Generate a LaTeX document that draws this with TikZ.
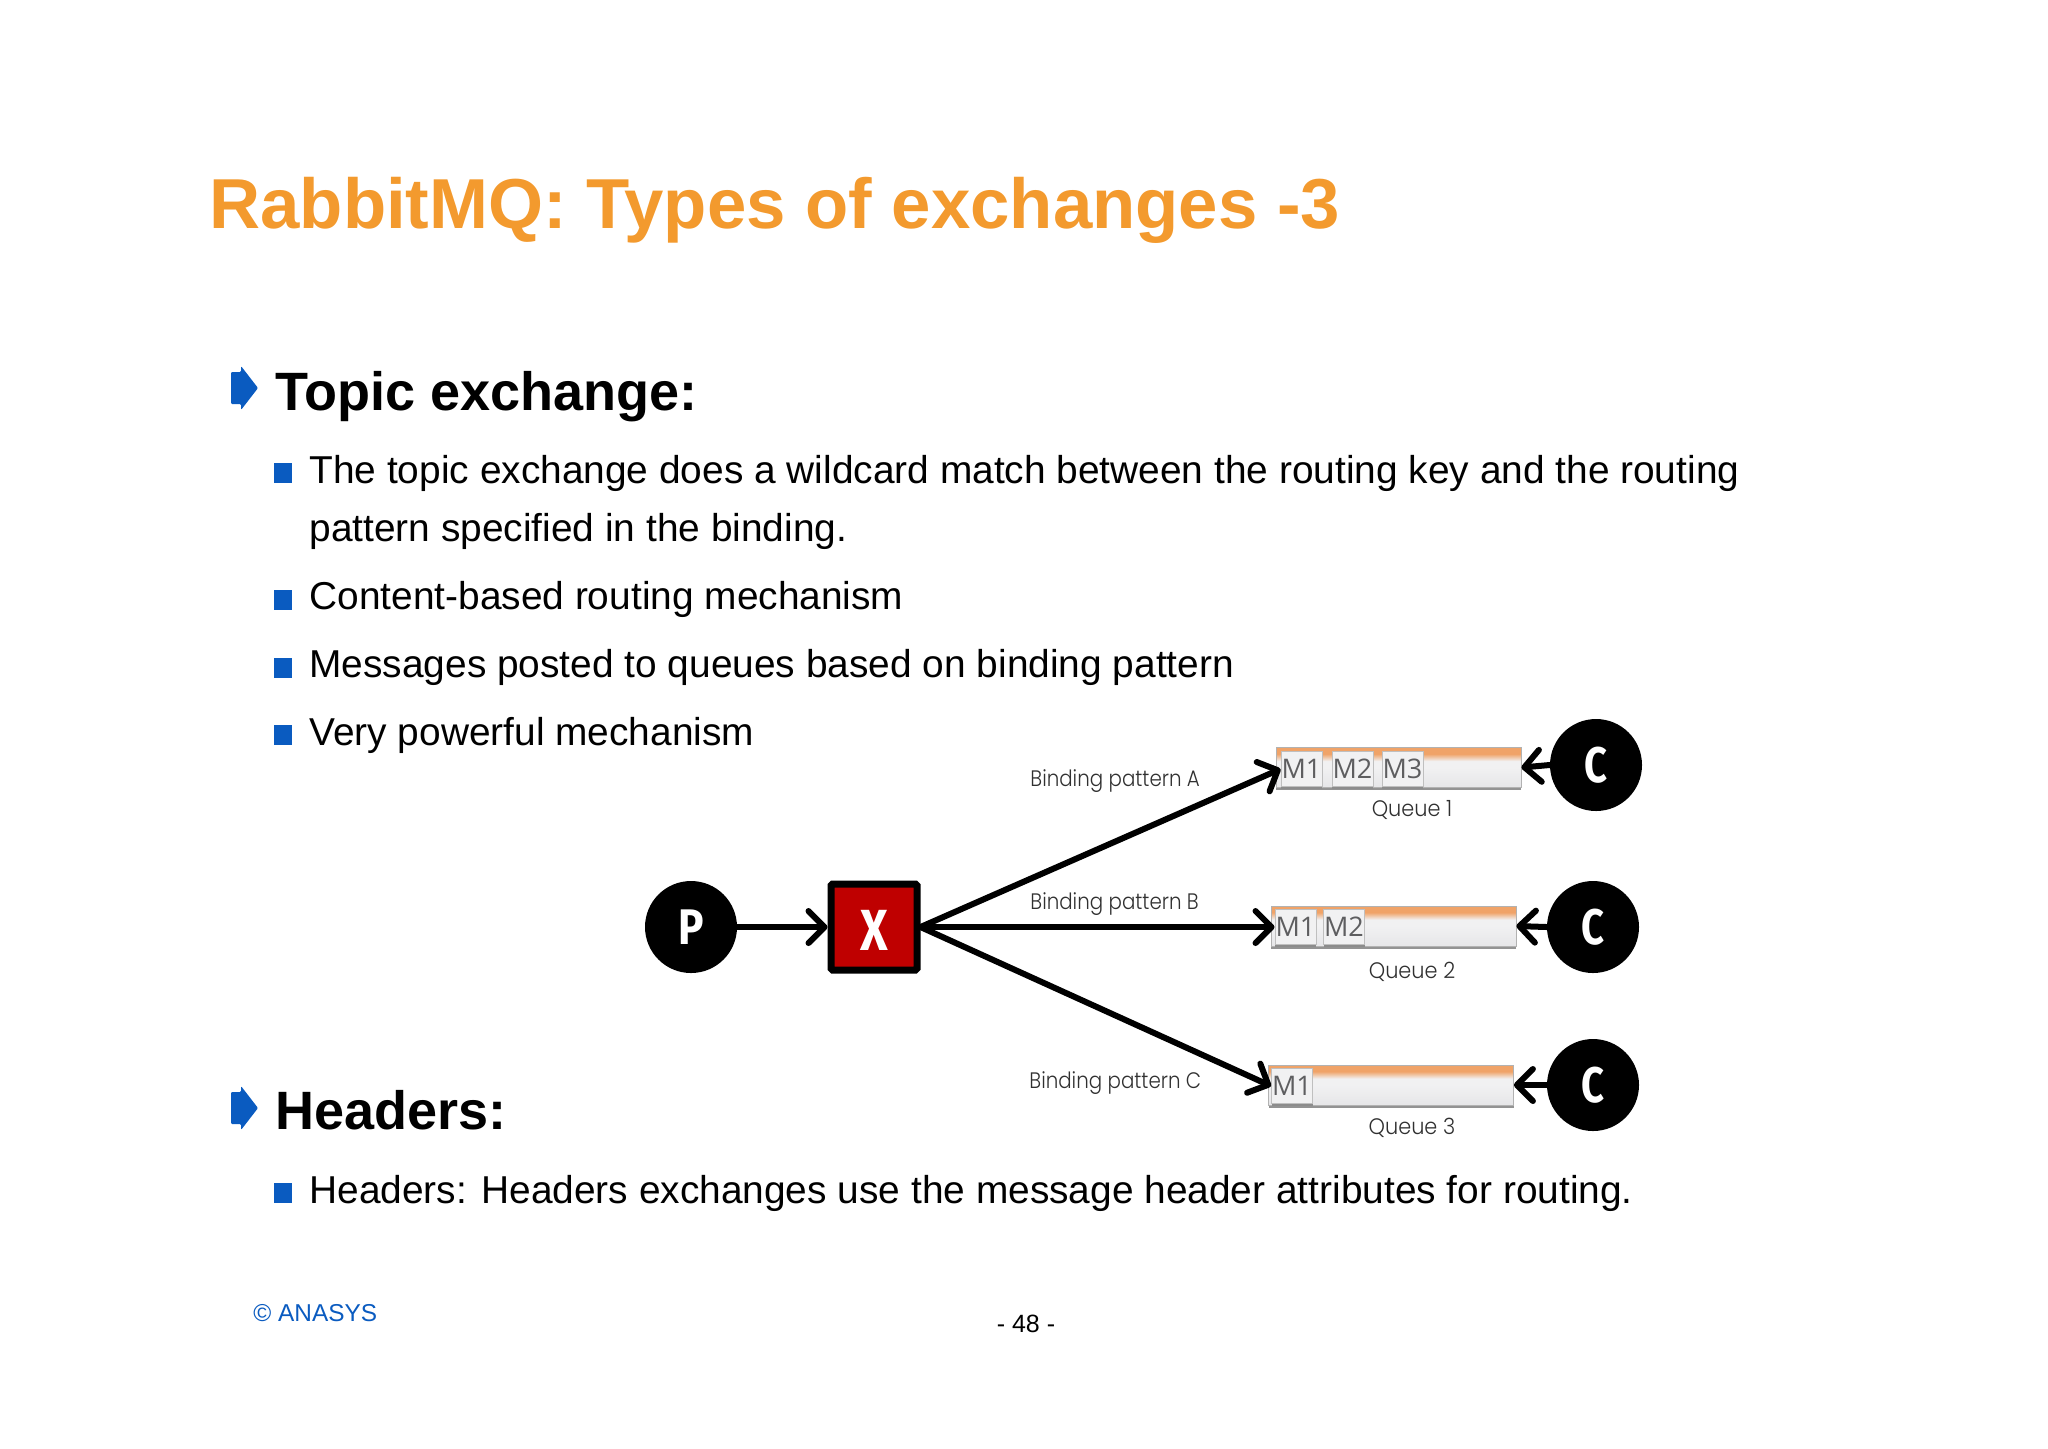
\documentclass[tikz,border=0pt]{standalone}
\usepackage{fontspec}
\setmainfont{Liberation Sans}
\newfontfamily\lblfont{Poppins}[UprightFont=* Light,FakeStretch=0.885]
\newfontfamily\qfont{Poppins}[UprightFont=* Light,FakeStretch=0.93]
\newfontfamily\msgfont{Open Sans}
\newfontfamily\keyfont{Fira Sans}[BoldFont=* Bold]
\usetikzlibrary{arrows.meta,shadows}
\definecolor{titleor}{HTML}{F39A2E}
\definecolor{bulblue}{HTML}{0A5BC0}
\definecolor{qor}{HTML}{F0A368}
\definecolor{qgr}{HTML}{E6E6E8}
\definecolor{qlt}{HTML}{F1F1F2}
\definecolor{xred}{HTML}{BF0000}
\definecolor{lblgr}{HTML}{303030}
\definecolor{msggr}{HTML}{5E5E60}
\pgfdeclareverticalshading{qshade}{100bp}{color(0bp)=(qgr);color(25bp)=(qgr);color(50bp)=(qlt);color(58bp)=(qlt);color(67bp)=(qor);color(75bp)=(qor);color(100bp)=(qor)}
\newcommand{\fsz}[1]{\fontsize{#1}{#1}\selectfont}
\tikzset{
  x=0.5pt,y=-0.5pt,
  body/.style={anchor=base west,inner sep=0pt,font=\fsz{19.43}},
  head/.style={anchor=base west,inner sep=0pt,font=\fsz{27}\bfseries},
  sq/.style={fill=bulblue,draw=none,minimum width=9pt,minimum height=10pt,inner sep=0pt},
  agent/.style={circle,fill=black,minimum size=46pt,inner sep=0pt,text=white,font=\keyfont\bfseries\fsz{25}},
  queue/.style={rectangle,draw=gray!60,line width=0.4pt,shading=qshade,minimum width=122.5pt,minimum height=20pt,inner sep=0pt,
    general shadow={fill=gray!85,shadow yshift=-1.4pt}},
  msg/.style={rectangle,fill=qlt,draw=gray!50,line width=0.5pt,minimum width=20.5pt,minimum height=17.5pt,inner sep=0pt,text=msggr,font=\msgfont\fsz{13.5},
    general shadow={fill=gray!90,shadow yshift=-1.4pt}},
  bind/.style={inner sep=0pt,text=lblgr,font=\lblfont\fsz{11.2},anchor=base west},
  qname/.style={inner sep=0pt,text=lblgr,font=\qfont\fsz{11.2},anchor=base},
  flow/.style={line width=3pt,line cap=round,-{Straight Barb[length=8pt,width=16pt,line width=3pt,round]}},
  hbul/.pic={\fill[bulblue,rounded corners=0.6pt] (231,372) -- (241,372) -- (241,366) -- (258,388) -- (241,410) -- (241,404) -- (231,404) -- cycle;}
}
\begin{document}
\begin{tikzpicture}
\useasboundingbox (0,0) rectangle (2048,1448);
\node[anchor=base west,inner sep=0pt,text=titleor,font=\fsz{35.37}\bfseries] (title) at (209,228) {RabbitMQ: Types of exchanges -3};

\pic at (0,0) {hbul};
\node[head] (h1) at (275,410) {Topic exchange:};
\node[sq] (b1) at (283,473) {};
\node[body] (t1) at (309,483) {The topic exchange does a wildcard match between the routing key and the routing};
\node[body] (t1b) at (309,541) {pattern specified in the binding.};
\node[sq] (b2) at (283,600) {};
\node[body] (t2) at (309,609) {Content-based routing mechanism};
\node[sq] (b3) at (283,668) {};
\node[body] (t3) at (309,677) {Messages posted to queues based on binding pattern};
\node[sq] (b4) at (283,735) {};
\node[body] (t4) at (309,745) {Very powerful mechanism};

\pic at (0,720) {hbul};
\node[head] (h2) at (275,1129) {Headers:};
\node[sq] (b5) at (283,1193) {};
\node[body] (t5) at (309,1203) {Headers: Headers exchanges use the message header attributes for routing.};

\node[anchor=base west,inner sep=0pt,text=bulblue,font=\fsz{12.2}] (copy) at (253,1321) {© ANASYS};
\node[anchor=base,inner sep=0pt,font=\fsz{12.5}] (page) at (1026,1332) {- 48 -};

% diagram
\node[agent] (p) at (691,927) {\scalebox{0.85}[1]{P}};
\node[rectangle,draw=black,fill=xred,line width=3.5pt,rounded corners=0.8pt,minimum size=43pt,inner sep=0pt] (x) at (874,927) {};
\node[inner sep=0pt,text=white,font=\keyfont\bfseries\fsz{29}] (xl) at (874,930) {\scalebox{0.82}[1]{X}};

\node[queue] (q1) at (1398.5,767.5) {};
\node[queue] (q2) at (1393.5,926) {};
\node[queue] (q3) at (1391,1085) {};

\node[msg] (m11) at (1301.5,769) {M1};
\node[msg] (m12) at (1352.5,769) {M2};
\node[msg] (m13) at (1402.5,769) {M3};
\node[msg] (m21) at (1295.5,927) {M1};
\node[msg] (m22) at (1344,927) {M2};
\node[msg] (m31) at (1292,1086) {M1};

\node[agent] (c1) at (1596,765) {\scalebox{0.8}[1]{C}};
\node[agent] (c2) at (1593,927) {\scalebox{0.8}[1]{C}};
\node[agent] (c3) at (1593,1085) {\scalebox{0.8}[1]{C}};

\draw[flow] (p.east) -- (x.west);
\draw[flow] (x.east) -- (m11.west);
\draw[flow] (x.east) -- (m21.west);
\draw[flow] (x.east) -- (m31.west);
\draw[flow] (c1.west) -- (q1.east);
\draw[flow] (c2.west) -- (q2.east);
\draw[flow] (c3.west) -- (q3.east);

\node[bind] (la) at (1030,786) {Binding pattern A};
\node[bind] (lb) at (1030,909) {Binding pattern B};
\node[bind] (lc) at (1029,1088) {Binding pattern C};
\node[qname] (n1) at (1412,816) {Queue 1};
\node[qname] (n2) at (1412,978) {Queue 2};
\node[qname] (n3) at (1412,1134) {Queue 3};
\end{tikzpicture}
\end{document}
